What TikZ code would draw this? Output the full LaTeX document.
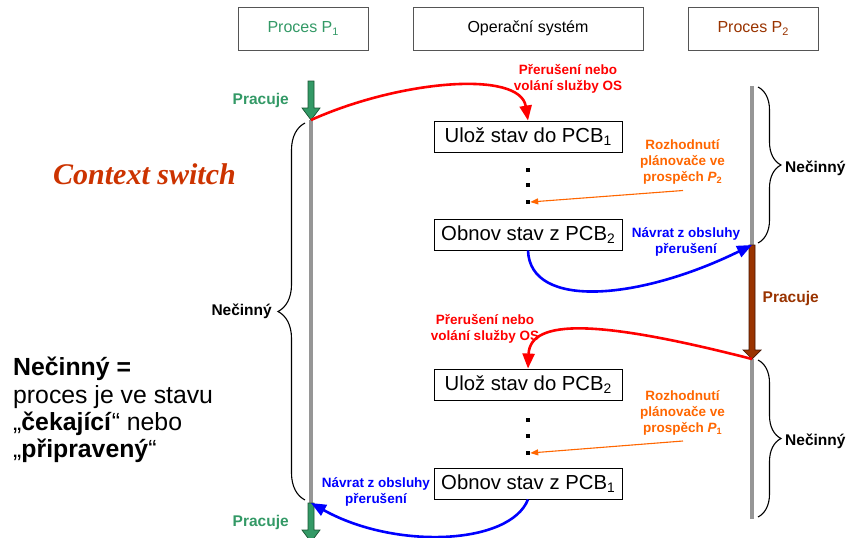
\documentclass[tikz,border=0pt]{standalone}
\usepackage{fontspec}
\usepackage{graphicx}
\setmainfont{Liberation Sans}
\newfontfamily\titleserif{Liberation Serif}
\usetikzlibrary{arrows.meta,decorations.pathreplacing}

\definecolor{pgreen}{RGB}{51,153,102}
\definecolor{pgreendark}{RGB}{25,85,50}
\definecolor{pbrown}{RGB}{153,51,0}
\definecolor{pbrowndark}{RGB}{70,20,0}
\definecolor{osred}{RGB}{255,0,0}
\definecolor{schorange}{RGB}{255,102,0}
\definecolor{retblue}{RGB}{0,0,255}
\definecolor{timeline}{RGB}{150,150,150}
\definecolor{headframe}{RGB}{85,85,85}
\definecolor{titlered}{RGB}{204,51,0}

% lowered index digit (P1, PCB2, ...)
\newcommand\idx[1]{\raisebox{-0.28ex}{\scalebox{0.68}{#1}}}
\newcommand\fs[2]{\fontsize{#1}{#2}\selectfont}
% block arrow pointing down: fill, frame, x, shaft top, head base, tip
\newcommand\runarrow[6]{%
  \filldraw[fill=#1,draw=#2,line width=0.7pt]
    (#3-3,#4) -- (#3+3,#4) -- (#3+3,#5) -- (#3+9,#5) -- (#3,#6)
    -- (#3-9,#5) -- (#3-3,#5) -- cycle;}

\begin{document}
\begin{tikzpicture}[x=1pt,y=-1pt,
  headbox/.style={draw=headframe,line width=0.8pt,minimum height=43pt,inner sep=0pt,font=\fs{16}{19}},
  osbox/.style={draw=black,line width=0.9pt,minimum width=188pt,minimum height=31pt,inner sep=0pt,font=\fs{20.3}{23}},
  note/.style={font=\bfseries\fs{13.5}{16},align=center,inner sep=0pt},
  idlelabel/.style={font=\bfseries\fs{15.5}{18},inner sep=0pt},
  lifeline/.style={draw=timeline,line width=4pt},
  brc/.style={draw=black,line width=1.1pt,decorate,decoration={brace,amplitude=#1}},
  trap/.style={draw=osred,line width=2.6pt,-{Triangle[length=15pt,width=12pt]}},
  ret/.style={draw=retblue,line width=2.6pt,-{Triangle[length=15pt,width=12pt]}},
  sched/.style={draw=schorange,line width=1.1pt,-{Triangle[length=8pt,width=6pt]}},
  sqdot/.style={fill=black,minimum size=4pt,inner sep=0pt}
]
\useasboundingbox (0,0) rectangle (849,538);
\clip (0,0) rectangle (849,538);

% column headers
\node[headbox,minimum width=130pt,text=pgreen] (hp1) at (303,28.5) {Proces P\idx{1}};
\node[headbox,minimum width=230pt] (hos) at (528,28.5) {Operační systém};
\node[headbox,minimum width=130pt,text=pbrown] (hp2) at (753,28.5) {Proces P\idx{2}};

% title and legend
\node[font=\titleserif\bfseries\itshape\fs{30}{34},text=titlered,anchor=base west,inner sep=0pt]
  (title) at (53,184.3) {Context switch};
\node[font=\fs{24.8}{27.3},align=left,anchor=west,inner sep=0pt] (legend) at (13,410)
  {\textbf{Nečinný =}\\proces je ve stavu\\„\textbf{čekající}“ nebo\\„\textbf{připravený}“};

% lifelines
\coordinate (p1a) at (311,120);
\coordinate (p1b) at (311,503);
\coordinate (p2a) at (752,86);
\coordinate (p2run) at (752,245);
\coordinate (p2stop) at (752,359);
\coordinate (p2b) at (752,519);
\draw[lifeline] (p1a) -- (p1b);
\draw[lifeline] (p2a) -- (p2run);
\draw[lifeline] (p2stop) -- (p2b);

% running phases
\runarrow{pgreen}{pgreendark}{311}{81}{108}{120}
\runarrow{pgreen}{pgreendark}{311}{503}{530}{542}
\runarrow{pbrown}{pbrowndark}{752}{245}{350}{359}
\node[idlelabel,text=pgreen,anchor=base west] (run1) at (232.5,104) {Pracuje};
\node[idlelabel,text=pgreen,anchor=base west] (run3) at (232.5,526.7) {Pracuje};
\node[idlelabel,text=pbrown,anchor=base west] (run2) at (762.5,302.7) {Pracuje};

% idle phases
\draw[brc=27] (305,500) -- (305,123);
\draw[brc=23] (758,87) -- (758,243);
\draw[brc=23] (758,360) -- (758,517);
\node[idlelabel,anchor=base east] (idle1) at (272,315.7) {Nečinný};
\node[idlelabel,anchor=base west] (idle2) at (785,172.3) {Nečinný};
\node[idlelabel,anchor=base west] (idle3) at (785,445.7) {Nečinný};

% operating system steps
\node[osbox] (save1) at (528,136.5) {Ulož stav do PCB\idx{1}};
\node[osbox] (load2) at (528,234.5) {Obnov stav z PCB\idx{2}};
\node[osbox] (save2) at (528,384.5) {Ulož stav do PCB\idx{2}};
\node[osbox] (load1) at (528,483.5) {Obnov stav z PCB\idx{1}};
\node[sqdot] (d11) at (528,169.5) {};
\node[sqdot] (d12) at (528,185.3) {};
\node[sqdot] (d13) at (528,202) {};
\node[sqdot] (d21) at (528,419.5) {};
\node[sqdot] (d22) at (528,435.5) {};
\node[sqdot] (d23) at (528,453) {};

% annotations
\node[note,text=osred] (int1) at (568,78.5) {Přerušení nebo\\volání služby OS};
\node[note,text=osred] (int2) at (485,328.5) {Přerušení nebo\\volání služby OS};
\node[note,text=schorange] (sch1) at (682.5,161.5) {Rozhodnutí\\plánovače ve\\prospěch \textit{P}\idx{2}};
\node[note,text=schorange] (sch2) at (682.5,413) {Rozhodnutí\\plánovače ve\\prospěch \textit{P}\idx{1}};
\node[note,text=retblue] (ret1) at (686,241.8) {Návrat z obsluhy\\přerušení};
\node[note,text=retblue] (ret2) at (376,491.8) {Návrat z obsluhy\\přerušení};

% transitions
\draw[trap] (p1a) .. controls (400,80) and (520,70) .. (save1.north);
\draw[trap] (p2stop) .. controls (600,320) and (530,318) .. (save2.north);
\draw[ret] (load2.south) .. controls (530,310) and (640,300) .. (p2run);
\draw[ret] (load1.south) .. controls (510,545) and (395,550) .. (p1b);
\coordinate (sch1tail) at (683,190.5);
\coordinate (sch2tail) at (683,441);
\draw[sched] (sch1tail) -- (d13.east);
\draw[sched] (sch2tail) -- (d23.east);
\end{tikzpicture}
\end{document}
